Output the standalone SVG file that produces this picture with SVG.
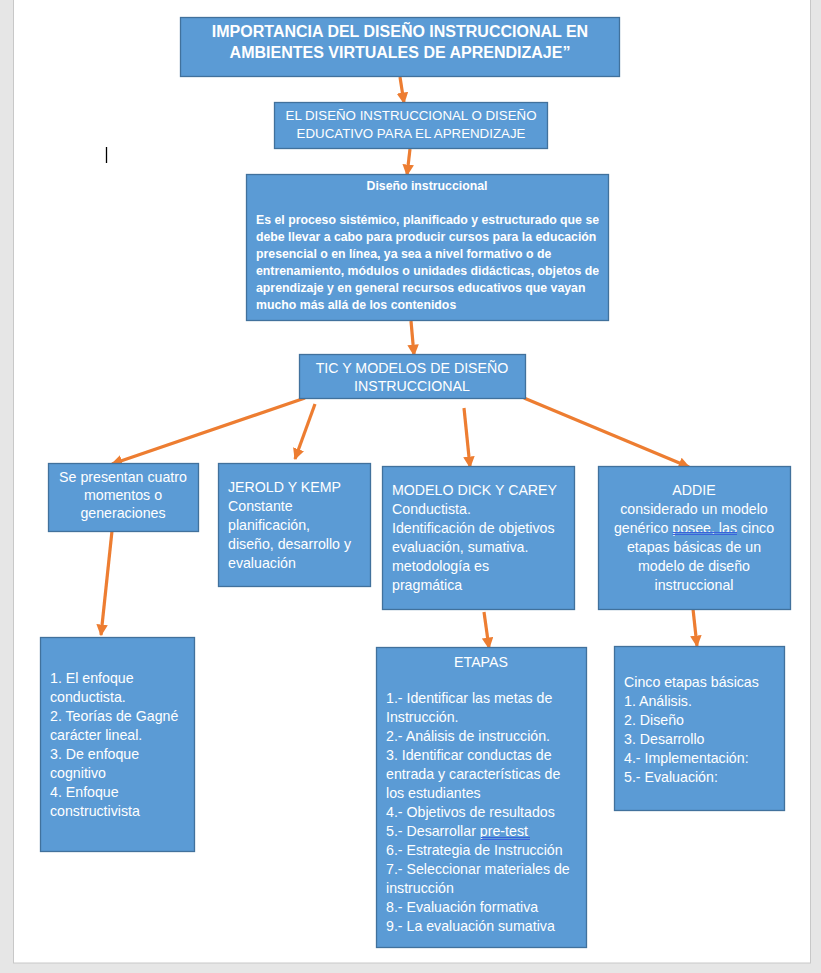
<svg xmlns="http://www.w3.org/2000/svg" width="821" height="973" viewBox="0 0 821 973">
<style>
.bx{fill:#5b9bd5;stroke:#41719c;stroke-width:1.3}
text{font-family:"Liberation Sans",Arial,sans-serif;fill:#fff}
.t{font-size:16px;font-weight:bold}
.m{font-size:14.2px}
.s{font-size:13.3px}
.c{text-anchor:middle}
.b{font-size:12.3px;font-weight:bold}
.cn{stroke:#ed7d31;stroke-width:3.2;fill:none;marker-end:url(#ah)}
.sp{stroke:#3a62dc;stroke-width:1}
</style>
<defs>
<marker id="ah" viewBox="0 0 10 10" refX="9" refY="5" markerWidth="3.6" markerHeight="3.6" orient="auto" markerUnits="strokeWidth">
<path d="M0,0 L10,5 L0,10 Z" fill="#ed7d31"/>
</marker>
</defs>
<rect x="0" y="0" width="821" height="973" fill="#e6e6e6"/>
<rect x="13.5" y="-2" width="797" height="965" fill="#fff" stroke="#c8c8c8" stroke-width="1"/>
<line x1="106.5" y1="147" x2="106.5" y2="163" stroke="#000" stroke-width="1.3"/>

<g id="connectors">
<line class="cn" x1="400" y1="77" x2="404" y2="103"/>
<line class="cn" x1="410" y1="149" x2="407" y2="175"/>
<line class="cn" x1="411" y1="321" x2="414" y2="355"/>
<line class="cn" x1="305" y1="398" x2="112" y2="464"/>
<line class="cn" x1="315" y1="404" x2="295" y2="459"/>
<line class="cn" x1="464" y1="408" x2="470" y2="467"/>
<line class="cn" x1="524" y1="398" x2="689" y2="467"/>
<line class="cn" x1="112" y1="531" x2="101" y2="635"/>
<line class="cn" x1="484" y1="612" x2="489" y2="648"/>
<line class="cn" x1="693" y1="609" x2="697" y2="646"/>
</g>

<g id="title">
<rect class="bx" x="180.5" y="17.5" width="439" height="59"/>
<text class="t c" x="400" y="37">IMPORTANCIA DEL DISEÑO INSTRUCCIONAL EN</text>
<text class="t c" x="400" y="58">AMBIENTES VIRTUALES DE APRENDIZAJE”</text>
</g>

<g id="disenoEducativo">
<rect class="bx" x="274.5" y="102.5" width="273" height="46"/>
<text class="s c" x="411" y="120">EL DISEÑO INSTRUCCIONAL O DISEÑO</text>
<text class="s c" x="411" y="138">EDUCATIVO PARA EL APRENDIZAJE</text>
</g>

<g id="disenoInstruccional">
<rect class="bx" x="246.5" y="174.5" width="362" height="146"/>
<text class="b c" x="427" y="190">Diseño instruccional</text>
<text class="b" x="256" y="224">Es el proceso sistémico, planificado y estructurado que se</text>
<text class="b" x="256" y="241">debe llevar a cabo para producir cursos para la educación</text>
<text class="b" x="256" y="258">presencial o en línea, ya sea a nivel formativo o de</text>
<text class="b" x="256" y="275">entrenamiento, módulos o unidades didácticas, objetos de</text>
<text class="b" x="256" y="292">aprendizaje y en general recursos educativos que vayan</text>
<text class="b" x="256" y="309">mucho más allá de los contenidos</text>
</g>

<g id="tic">
<rect class="bx" x="299.5" y="354.5" width="226" height="44"/>
<text class="m c" x="412" y="373">TIC Y MODELOS DE DISEÑO</text>
<text class="m c" x="412" y="391">INSTRUCCIONAL</text>
</g>

<g id="generaciones">
<rect class="bx" x="48.5" y="463.5" width="150" height="68"/>
<text class="m c" x="123" y="482">Se presentan cuatro</text>
<text class="m c" x="123" y="500">momentos o</text>
<text class="m c" x="123" y="518">generaciones</text>
</g>

<g id="jerold">
<rect class="bx" x="218.5" y="463.5" width="152" height="123"/>
<text class="m" x="228" y="492">JEROLD Y KEMP</text>
<text class="m" x="228" y="511">Constante</text>
<text class="m" x="228" y="530">planificación,</text>
<text class="m" x="228" y="549">diseño, desarrollo y</text>
<text class="m" x="228" y="568">evaluación</text>
</g>

<g id="dick">
<rect class="bx" x="382.5" y="466.5" width="192" height="143"/>
<text class="m" x="392" y="495">MODELO DICK Y CAREY</text>
<text class="m" x="392" y="514">Conductista.</text>
<text class="m" x="392" y="533">Identificación de objetivos</text>
<text class="m" x="392" y="552">evaluación, sumativa.</text>
<text class="m" x="392" y="571">metodología es</text>
<text class="m" x="392" y="590">pragmática</text>
</g>

<g id="addie">
<rect class="bx" x="598.5" y="466.5" width="192" height="143"/>
<text class="m c" x="694" y="495">ADDIE</text>
<text class="m c" x="694" y="514">considerado un modelo</text>
<text class="m c" x="694" y="533">genérico posee, las cinco</text>
<text class="m c" x="694" y="552">etapas básicas de un</text>
<text class="m c" x="694" y="571">modelo de diseño</text>
<text class="m c" x="694" y="590">instruccional</text>
<line class="sp" x1="672.5" y1="532.5" x2="737" y2="532.5"/>
<line class="sp" x1="672.5" y1="534.5" x2="737" y2="534.5"/>
</g>

<g id="enfoques">
<rect class="bx" x="40.5" y="637.5" width="154" height="214"/>
<text class="m" x="50" y="683">1. El enfoque</text>
<text class="m" x="50" y="702">conductista.</text>
<text class="m" x="50" y="721">2. Teorías de Gagné</text>
<text class="m" x="50" y="740">carácter lineal.</text>
<text class="m" x="50" y="759">3. De enfoque</text>
<text class="m" x="50" y="778">cognitivo</text>
<text class="m" x="50" y="797">4. Enfoque</text>
<text class="m" x="50" y="816">constructivista</text>
</g>

<g id="etapas">
<rect class="bx" x="376.5" y="647.5" width="210" height="300"/>
<text class="m c" x="481" y="667">ETAPAS</text>
<text class="m" x="386" y="703">1.- Identificar las metas de</text>
<text class="m" x="386" y="722">Instrucción.</text>
<text class="m" x="386" y="741">2.- Análisis de instrucción.</text>
<text class="m" x="386" y="760">3. Identificar conductas de</text>
<text class="m" x="386" y="779">entrada y características de</text>
<text class="m" x="386" y="798">los estudiantes</text>
<text class="m" x="386" y="817">4.- Objetivos de resultados</text>
<text class="m" x="386" y="836">5.- Desarrollar pre-test</text>
<text class="m" x="386" y="855">6.- Estrategia de Instrucción</text>
<text class="m" x="386" y="874">7.- Seleccionar materiales de</text>
<text class="m" x="386" y="893">instrucción</text>
<text class="m" x="386" y="912">8.- Evaluación formativa</text>
<text class="m" x="386" y="931">9.- La evaluación sumativa</text>
<line class="sp" x1="481" y1="837.5" x2="530" y2="837.5"/>
<line class="sp" x1="481" y1="839.5" x2="530" y2="839.5"/>
</g>

<g id="cincoEtapas">
<rect class="bx" x="614.5" y="646.5" width="170" height="164"/>
<text class="m" x="624" y="687">Cinco etapas básicas</text>
<text class="m" x="624" y="706">1. Análisis.</text>
<text class="m" x="624" y="725">2. Diseño</text>
<text class="m" x="624" y="744">3. Desarrollo</text>
<text class="m" x="624" y="763">4.- Implementación:</text>
<text class="m" x="624" y="782">5.- Evaluación:</text>
</g>
</svg>
